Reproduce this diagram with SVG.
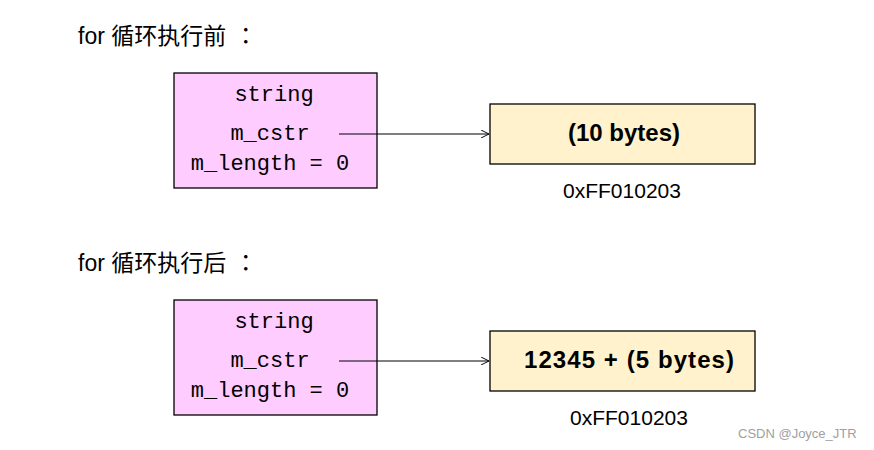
<svg xmlns="http://www.w3.org/2000/svg" width="874" height="450" viewBox="0 0 874 450">
<style>
.title{font-family:"Liberation Sans","Noto Sans CJK SC",sans-serif;font-size:23px;fill:#000}
.colon{font-family:"Noto Sans CJK TC",sans-serif}
.obj{fill:#FFCCFF;stroke:#000;stroke-width:1.3}
.mem{fill:#FFF2CC;stroke:#000;stroke-width:1.3}
.mono{font-family:"Liberation Mono",monospace;font-size:22px;fill:#000;text-anchor:middle}
.bold{font-family:"Liberation Sans",sans-serif;font-weight:bold;font-size:24px;fill:#000;text-anchor:middle}
.addr{font-family:"Liberation Sans",sans-serif;font-size:21px;fill:#000;text-anchor:middle}
.conn{stroke:#000;stroke-width:1.2;fill:none}
.wm{font-family:"Liberation Sans",sans-serif;font-size:13px;fill:#a0a0a0}
</style>
<defs>
<marker id="arr" viewBox="0 0 10 10" refX="10" refY="5" markerWidth="8" markerHeight="8" markerUnits="userSpaceOnUse" orient="auto">
<path d="M0,0 L10,5 L0,10" fill="none" stroke="#000" stroke-width="1.2"/>
</marker>
</defs>
<rect width="874" height="450" fill="#fff"/>
<text class="title" x="78" y="44">for 循环执行前<tspan class="colon" dx="8">：</tspan></text>
<text class="title" x="78" y="271">for 循环执行后<tspan class="colon" dx="8">：</tspan></text>

<g id="string1">
<rect class="obj" x="174" y="73" width="203" height="115"/>
<text class="mono" x="274" y="101">string</text>
<text class="mono" x="270" y="140">m_cstr</text>
<text class="mono" x="270" y="170">m_length = 0</text>
</g>
<g id="mem1">
<rect class="mem" x="490" y="104" width="265" height="60"/>
<text class="bold" x="624" y="141">(10 bytes)</text>
<text class="addr" x="622" y="198">0xFF010203</text>
</g>

<g id="string2">
<rect class="obj" x="174" y="300" width="203" height="115"/>
<text class="mono" x="274" y="328">string</text>
<text class="mono" x="270" y="367">m_cstr</text>
<text class="mono" x="270" y="397">m_length = 0</text>
</g>
<g id="mem2">
<rect class="mem" x="490" y="331" width="265" height="60"/>
<text class="bold" x="629" y="368" textLength="210" lengthAdjust="spacing">12345 +  (5 bytes)</text>
<text class="addr" x="629" y="425">0xFF010203</text>
</g>

<g id="connectors">
<line class="conn" x1="339" y1="134" x2="489" y2="134" marker-end="url(#arr)"/>
<line class="conn" x1="339" y1="361" x2="489" y2="361" marker-end="url(#arr)"/>
</g>

<text class="wm" x="738" y="438">CSDN @Joyce_JTR</text>
</svg>
